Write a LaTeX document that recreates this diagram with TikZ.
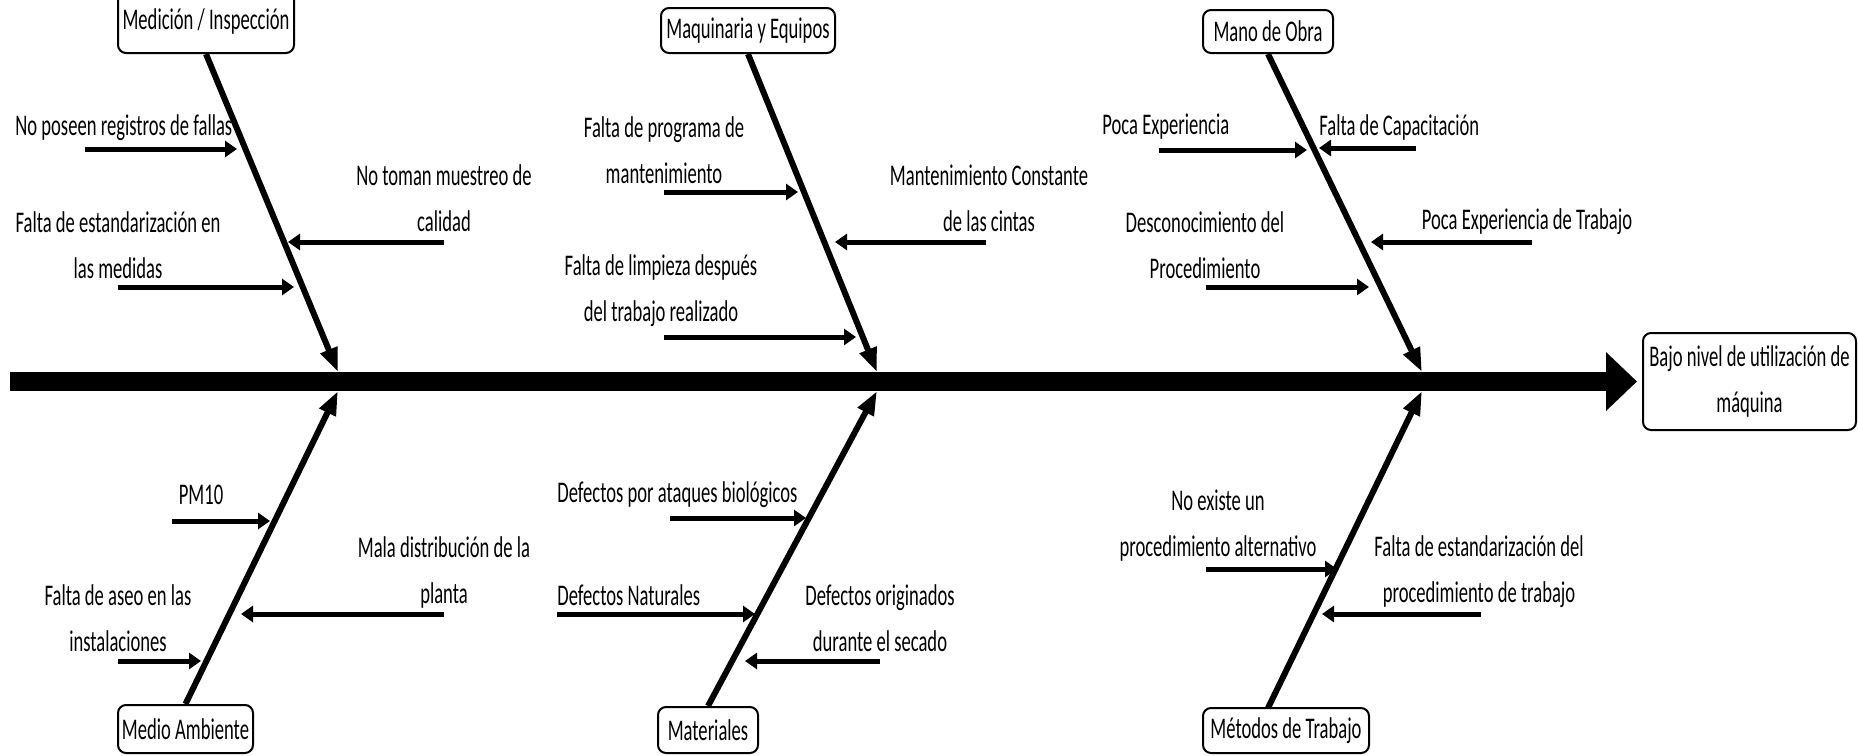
\documentclass[tikz,border=0pt]{standalone}
\usepackage{fontspec}
\setmainfont{Carlito}[FakeStretch=0.62]
\usetikzlibrary{arrows.meta}
\begin{document}
\begin{tikzpicture}[x=0.5pt,y=-0.5pt,
  lbl/.style={font=\fontsize{15}{23}\selectfont, inner sep=0pt, align=center},
  catbox/.style={draw, line width=1pt, rounded corners=4pt, inner sep=0pt,
    font=\fontsize{15}{17}\selectfont},
  cause/.style={line width=2.5pt, -{Triangle[length=6pt,width=8pt]}},
  bone/.style={line width=3pt, -{Triangle[length=12pt,width=8.5pt]}},
  spine/.style={line width=9.5pt, -{Triangle[length=15.5pt,width=28.5pt]}}]
\useasboundingbox (0,0) rectangle (1858,755);

% effect
\node[catbox, minimum width=106.5pt, minimum height=48.5pt, align=center,
  font=\fontsize{15}{23}\selectfont] (eff) at (1749.5,381.5)
  {Bajo nivel de utilización de\\máquina};
\coordinate (spL) at (10,381.5);
\draw[spine, shorten >=2.5pt] (spL) -- (eff.west);

% category boxes
\node[catbox, minimum width=88pt, minimum height=31pt] (med) at (206,22) {Medición / Inspección};
\node[catbox, minimum width=87pt, minimum height=22.5pt] (maq) at (748,30.5) {Maquinaria y Equipos};
\node[catbox, minimum width=65pt, minimum height=21.5pt] (mano) at (1268,31.5) {Mano de Obra};
\node[catbox, minimum width=67.5pt, minimum height=24pt] (amb) at (185.5,729) {Medio Ambiente};
\node[catbox, minimum width=50pt, minimum height=23pt] (mat) at (708,730) {Materiales};
\node[catbox, minimum width=83pt, minimum height=22.5pt] (met) at (1286,730.5) {Métodos de Trabajo};

% junctions on the spine
\coordinate (j1) at (338,372);
\coordinate (j2) at (877,372);
\coordinate (j3) at (1422,372);
\coordinate (j4) at (338,391);
\coordinate (j5) at (877,391);
\coordinate (j6) at (1422,391);
\coordinate (metTop) at (1268,708);

% main bones
\draw[bone] (med.south) -- (j1);
\draw[bone] (maq.south) -- (j2);
\draw[bone] (mano.south) -- (j3);
\draw[bone] (amb.north) -- (j4);
\draw[bone] (mat.north) -- (j5);
\draw[bone] (metTop) -- (j6);

% Medicion / Inspeccion
\node[lbl, anchor=west] (t11) at (15,128) {No poseen registros de fallas};
\coordinate (a11s) at (85,149); \coordinate (a11e) at (237,149);
\draw[cause] (a11s) -- (a11e);
\node[lbl] (t12) at (444,198) {No toman muestreo de\\calidad};
\coordinate (a12s) at (444,242); \coordinate (a12e) at (288,242);
\draw[cause] (a12s) -- (a12e);
\node[lbl] (t13) at (118,245) {Falta de estandarización en\\las medidas};
\coordinate (a13s) at (118,287); \coordinate (a13e) at (294,287);
\draw[cause] (a13s) -- (a13e);

% Maquinaria y Equipos
\node[lbl] (t21) at (664,150) {Falta de programa de\\mantenimiento};
\coordinate (a21s) at (664,192); \coordinate (a21e) at (798,192);
\draw[cause] (a21s) -- (a21e);
\node[lbl] (t22) at (989,198) {Mantenimiento Constante\\de las cintas};
\coordinate (a22s) at (986,242); \coordinate (a22e) at (835,242);
\draw[cause] (a22s) -- (a22e);
\node[lbl] (t23) at (661,291) {Falta de limpieza después\\del trabajo realizado};
\coordinate (a23s) at (664,337); \coordinate (a23e) at (856,337);
\draw[cause] (a23s) -- (a23e);

% Mano de Obra
\node[lbl, anchor=west] (t31) at (1102,127) {Poca Experiencia};
\coordinate (a31s) at (1159,150); \coordinate (a31e) at (1307,150);
\draw[cause] (a31s) -- (a31e);
\node[lbl, anchor=west] (t32) at (1319,127) {Falta de Capacitación};
\coordinate (a32s) at (1416,148); \coordinate (a32e) at (1319,148);
\draw[cause] (a32s) -- (a32e);
\node[lbl] (t33) at (1205,245) {Desconocimiento del\\Procedimiento};
\coordinate (a33s) at (1206,287); \coordinate (a33e) at (1369,287);
\draw[cause] (a33s) -- (a33e);
\node[lbl] (t34) at (1527,222) {Poca Experiencia de Trabajo};
\coordinate (a34s) at (1532,242); \coordinate (a34e) at (1371,242);
\draw[cause] (a34s) -- (a34e);

% Medio Ambiente
\node[lbl] (t41) at (201,495) {PM10};
\coordinate (a41s) at (172,521); \coordinate (a41e) at (270,521);
\draw[cause] (a41s) -- (a41e);
\node[lbl] (t42) at (444,572) {Mala distribución de la\\planta};
\coordinate (a42s) at (444,614); \coordinate (a42e) at (241,614);
\draw[cause] (a42s) -- (a42e);
\node[lbl] (t43) at (118,618) {Falta de aseo en las\\instalaciones};
\coordinate (a43s) at (118,661); \coordinate (a43e) at (201,661);
\draw[cause] (a43s) -- (a43e);

% Materiales
\node[lbl, anchor=west] (t51) at (557,495) {Defectos por ataques biológicos};
\coordinate (a51s) at (670,518); \coordinate (a51e) at (806,518);
\draw[cause] (a51s) -- (a51e);
\node[lbl, anchor=west] (t52) at (557,595) {Defectos Naturales};
\coordinate (a52s) at (557,614); \coordinate (a52e) at (755,614);
\draw[cause] (a52s) -- (a52e);
\node[lbl] (t53) at (880,618) {Defectos originados\\durante el secado};
\coordinate (a53s) at (880,661); \coordinate (a53e) at (745,661);
\draw[cause] (a53s) -- (a53e);

% Metodos de Trabajo
\node[lbl] (t61) at (1218,526) {No existe un\\procedimiento alternativo};
\coordinate (a61s) at (1206,569); \coordinate (a61e) at (1337,569);
\draw[cause] (a61s) -- (a61e);
\node[lbl] (t62) at (1479,572) {Falta de estandarización del\\procedimiento de trabajo};
\coordinate (a62s) at (1481,614); \coordinate (a62e) at (1322,614);
\draw[cause] (a62s) -- (a62e);
\end{tikzpicture}
\end{document}
